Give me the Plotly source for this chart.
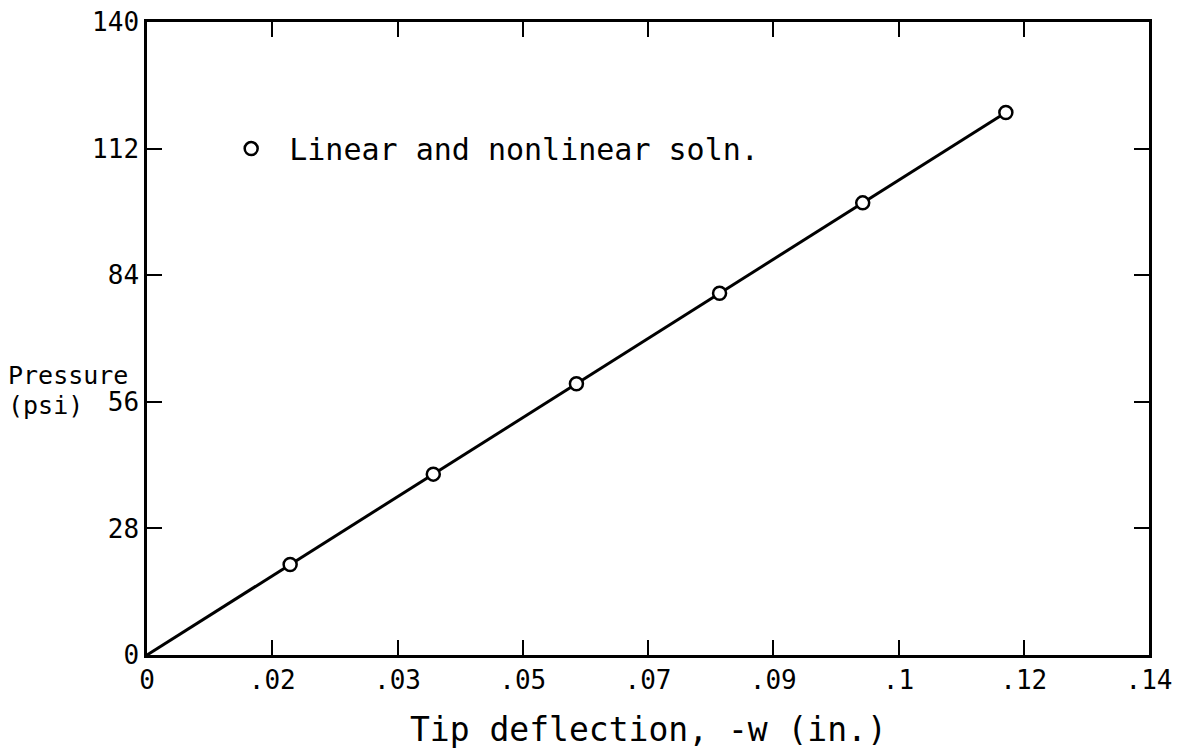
import plotly.graph_objects as go

# Data
deflection = [0.0, 0.02, 0.04, 0.06, 0.08, 0.10, 0.12]
pressure = [0, 20, 40, 60, 80, 100, 120]
sol_deflection = [0.02, 0.04, 0.06, 0.08, 0.10, 0.12]
sol_pressure = [20, 40, 60, 80, 100, 120]

x_tickvals = [0, 0.0175, 0.035, 0.0525, 0.07, 0.0875, 0.105, 0.1225, 0.14]
x_ticktext = ["0", ".02", ".03", ".05", ".07", ".09", ".1", ".12", ".14"]
y_tickvals = [0, 28, 56, 84, 112, 140]
y_ticktext = ["0", "28", "56", "84", "112", "140"]

FONT = "DejaVu Sans Mono"

fig = go.Figure()
fig.add_trace(go.Scatter(
    x=deflection, y=pressure, mode="lines",
    line=dict(color="black", width=3), showlegend=False, hoverinfo="skip"))
fig.add_trace(go.Scatter(
    x=sol_deflection, y=sol_pressure, mode="markers",
    name=" Linear and nonlinear soln.",
    marker=dict(symbol="circle", size=13, color="white",
                line=dict(color="black", width=2.5))))

axis_common = dict(
    showline=True, linecolor="black", linewidth=2.5, mirror="ticks",
    ticks="inside", ticklen=15, tickwidth=2, tickcolor="black",
    showgrid=False, zeroline=False, automargin=False,
    ticklabeloverflow="allow",
    tickfont=dict(family=FONT, size=26, color="black"))

fig.update_xaxes(range=[0, 0.14], tickmode="array", tickvals=x_tickvals,
                 ticktext=x_ticktext, **axis_common)
fig.update_yaxes(range=[0, 140], tickmode="array", tickvals=y_tickvals,
                 ticktext=y_ticktext, **axis_common)

fig.add_annotation(text="Tip deflection, -w (in.)", xref="paper", yref="paper",
                   x=0.5, y=-0.117, xanchor="center", yanchor="middle",
                   showarrow=False,
                   font=dict(family=FONT, size=33, color="black"))
fig.add_annotation(text="Pressure", xref="paper", yref="paper",
                   x=-0.141, y=0.442, xanchor="left", yanchor="middle",
                   showarrow=False,
                   font=dict(family=FONT, size=25, color="black"))
fig.add_annotation(text="(psi)", xref="paper", yref="paper",
                   x=-0.141, y=0.394, xanchor="left", yanchor="middle",
                   showarrow=False,
                   font=dict(family=FONT, size=25, color="black"))

fig.update_layout(
    width=1164, height=746,
    margin=dict(l=139, r=23, t=14, b=99),
    paper_bgcolor="white", plot_bgcolor="white",
    font=dict(family=FONT, size=28, color="black"),
    legend=dict(x=0.084, y=0.80, xanchor="left", yanchor="middle",
                bgcolor="rgba(0,0,0,0)", font=dict(family=FONT, size=30, color="black")),
)

fig.write_html("out.html")
